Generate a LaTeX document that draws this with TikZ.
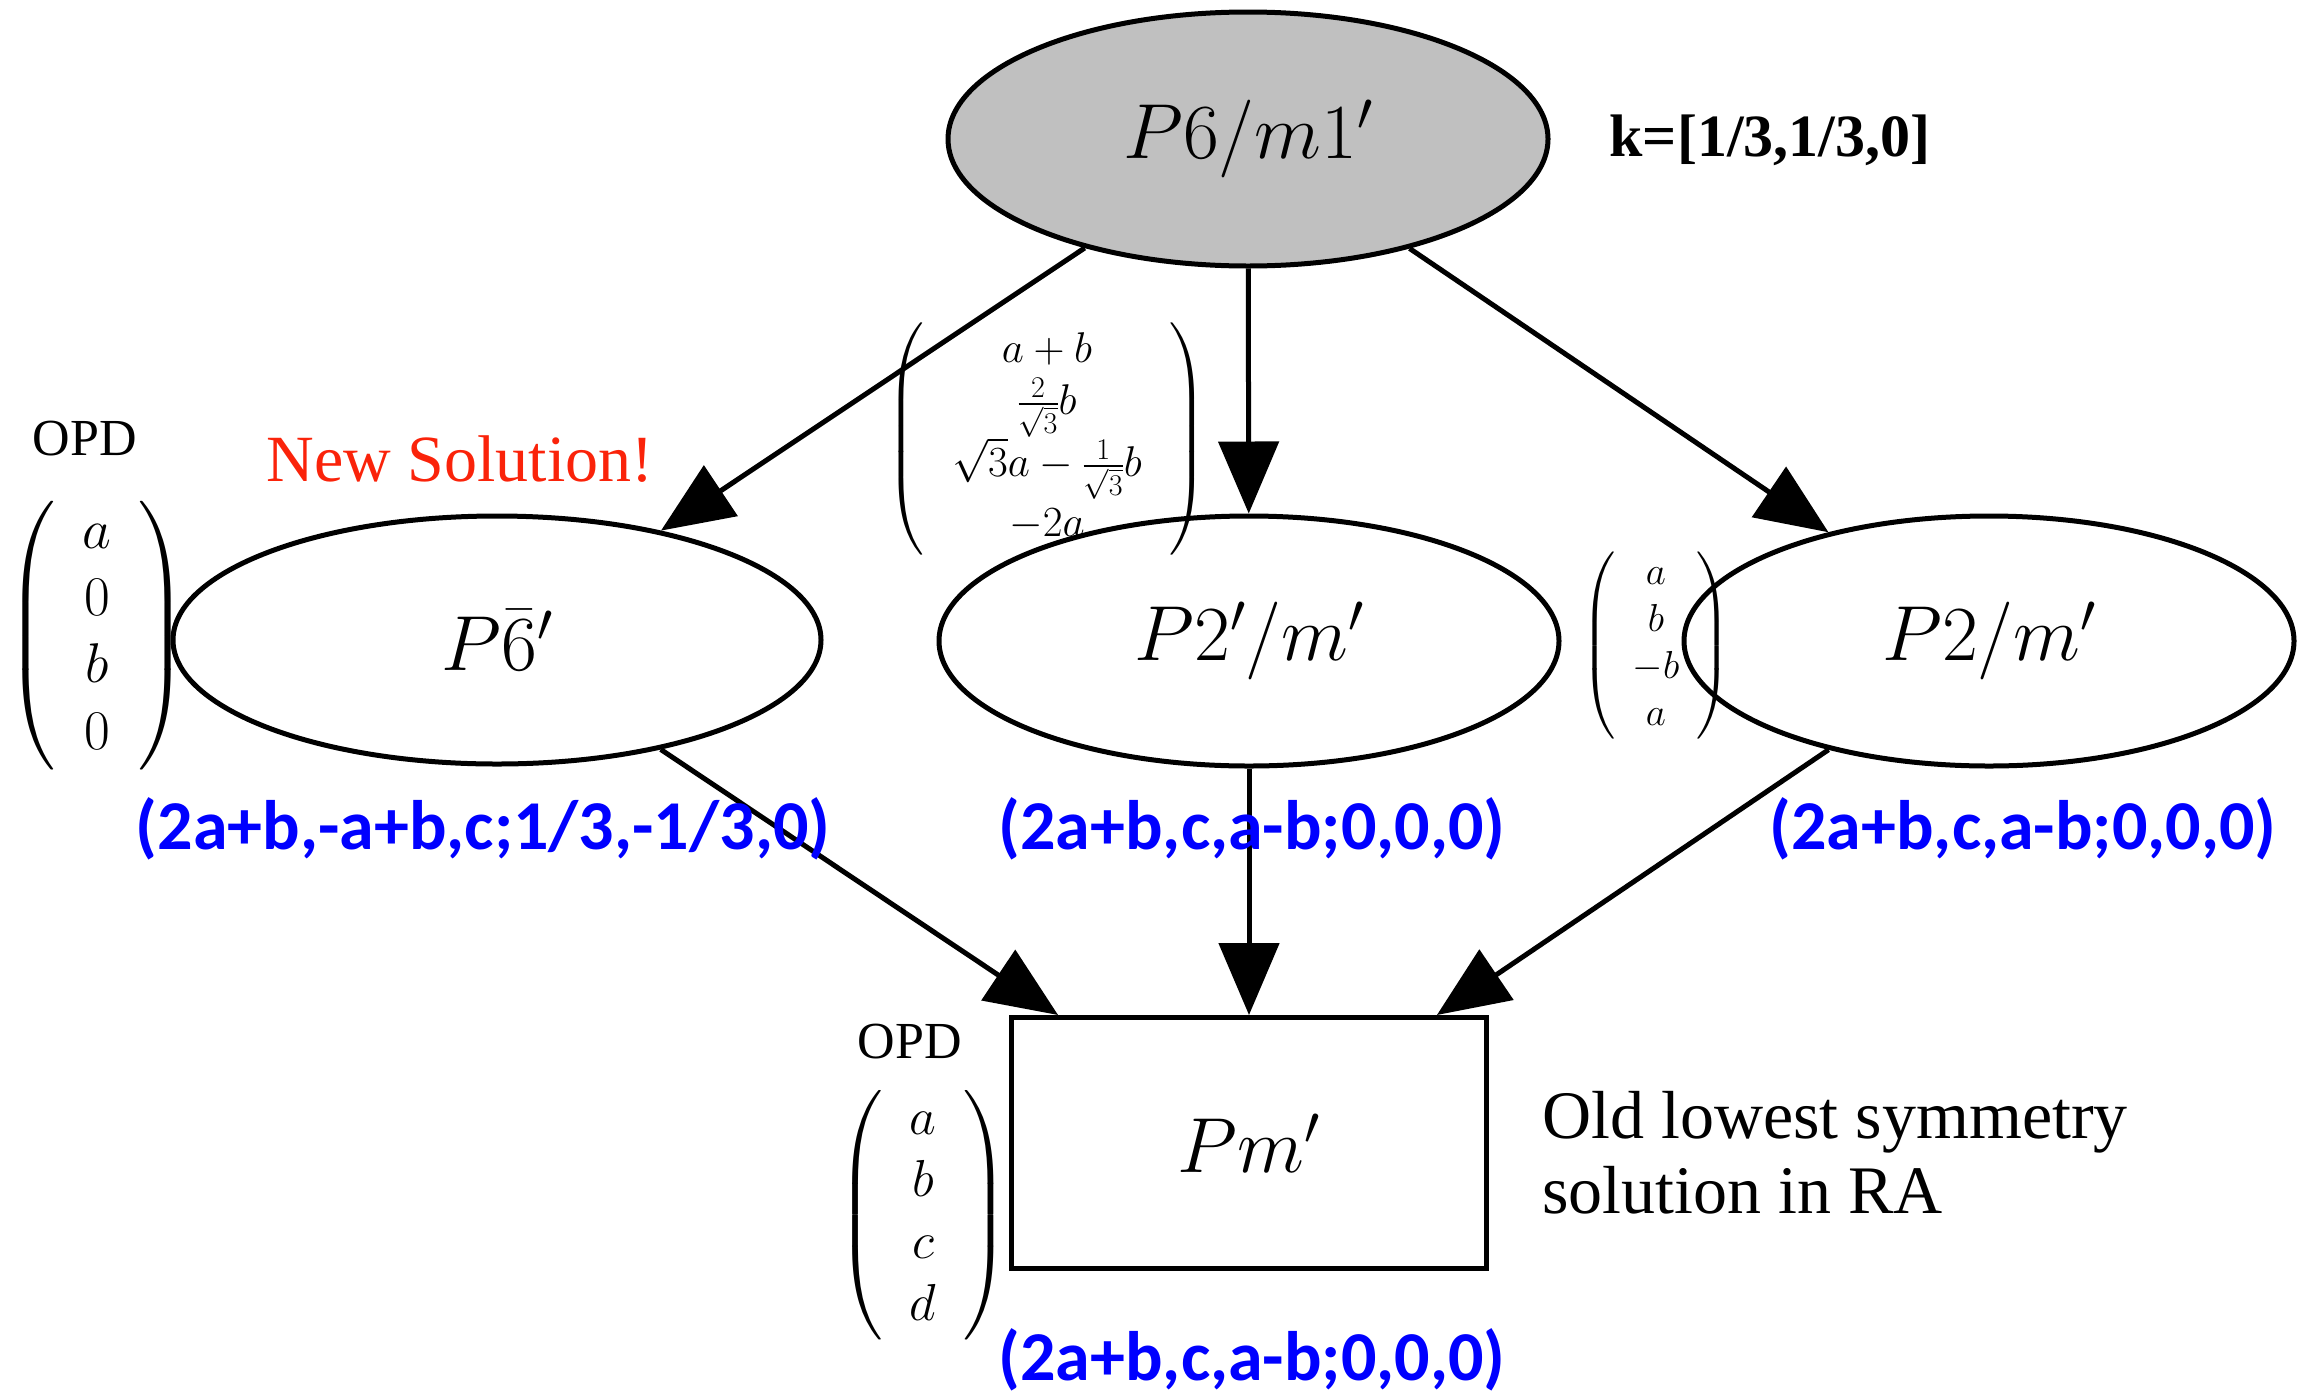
\documentclass[tikz,border=0pt]{standalone}
\usepackage{fix-cm}
\usepackage{amsmath}
\DeclareFontShape{OMX}{cmex}{m}{n}{<->cmex10}{}
\usepackage{fontspec}
\newfontfamily\tnrfont{Liberation Serif}
\newfontfamily\calibrifont{Carlito}
\usetikzlibrary{shapes.geometric,arrows.meta}
\definecolor{nodegray}{RGB}{192,192,192}
\definecolor{newred}{RGB}{250,35,10}
\begin{document}
\begin{tikzpicture}[x=1pt,y=-1pt,
  ell/.style={ellipse, draw, line width=5pt, inner sep=0pt},
  arr/.style={line width=5pt, -{Triangle[length=72pt,width=60pt]}},
  nodemath/.style={font=\fontsize{78}{90}\selectfont},
  blue lbl/.style={text=blue, font=\calibrifont\bfseries\fontsize{70}{84}\selectfont, inner sep=0pt},
  serif/.style={font=\tnrfont\fontsize{#1}{#1}\selectfont, inner sep=0pt},
  mat/.style 2 args={font=\fontsize{#1}{#2}\selectfont, inner sep=0pt}
]
\useasboundingbox (0,0) rectangle (2312,1395);

% main nodes
\node[ell, fill=nodegray, minimum width=600pt, minimum height=254pt, nodemath] (top) at (1248,139) {$P6/m1'$};
\node[ell, minimum width=648pt, minimum height=248pt, nodemath] (left) at (497,640) {$P\bar{6}'$};
\node[ell, minimum width=620pt, minimum height=250pt, nodemath] (mid) at (1249,641) {$P2'/m'$};
\node[ell, minimum width=610pt, minimum height=250pt, nodemath] (right) at (1989,641) {$P2/m'$};
\node[draw, line width=5pt, minimum width=475pt, minimum height=251pt, inner sep=0pt, nodemath] (bot) at (1249,1143) {$Pm'$};

% connectors
\draw[arr] (top) -- (left);
\draw[arr] (top) -- (mid);
\draw[arr] (top) -- (right);
\draw[arr] (left) -- (bot);
\draw[arr] (mid) -- (bot);
\draw[arr] (right) -- (bot);

% labels
\node[serif=60, font=\tnrfont\bfseries\fontsize{60}{60}\selectfont] (kvec) at (1770,140) {k=[1/3,1/3,0]};
\node[serif=66, text=newred] (newsol) at (460,459) {New Solution!};
\node[serif=52] (opdL) at (85,439) {OPD};
\node[mat={56}{67}] (matL) at (97,636) {$\left(\hspace{27pt}\begin{matrix} a\\ 0\\ b\\ 0\end{matrix}\hspace{27pt}\right)$};
\node[mat={43}{52}] (matM) at (1047,439) {$\left(\hspace{28pt}\begin{matrix} a+b\\ \frac{2}{\sqrt{3}}b\\ \sqrt{3}a-\frac{1}{\sqrt{3}}b\\ -2a\end{matrix}\hspace{28pt}\right)$};
\node[mat={39}{47}] (matR) at (1656,646) {$\left(\hspace{17pt}\begin{matrix} a\\ b\\ -b\\ a\end{matrix}\hspace{17pt}\right)$};
\node[serif=52] (opdB) at (910,1042) {OPD};
\node[mat={52}{62}] (matB) at (923,1215) {$\left(\hspace{27pt}\begin{matrix} a\\ b\\ c\\ d\end{matrix}\hspace{27pt}\right)$};
\node[align=left, anchor=west, inner sep=0pt, font=\tnrfont\fontsize{68}{75}\selectfont] (old) at (1542,1153) {Old lowest symmetry\\solution in RA};

\node[blue lbl] (tl) at (483,829) {(2a+b,-a+b,c;1/3,-1/3,0)};
\node[blue lbl] (tm) at (1252,829) {(2a+b,c,a-b;0,0,0)};
\node[blue lbl] (tr) at (2023,829) {(2a+b,c,a-b;0,0,0)};
\node[blue lbl] (tb) at (1252,1360) {(2a+b,c,a-b;0,0,0)};
\end{tikzpicture}
\end{document}
